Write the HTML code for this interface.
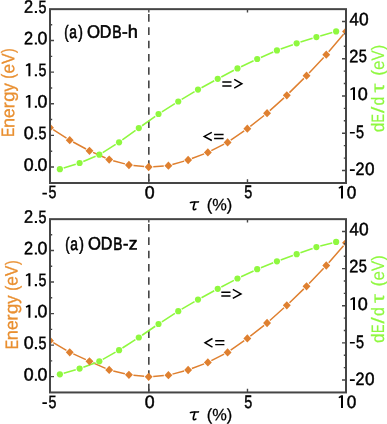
<!DOCTYPE html>
<html><head><meta charset="utf-8"><style>
html,body{margin:0;padding:0;background:#fff;width:387px;height:424px;overflow:hidden}
svg{display:block;will-change:transform}
text{font-family:"Liberation Sans",sans-serif;stroke-width:0.6px;paint-order:stroke}
</style></head><body>
<svg width="387" height="424" viewBox="0 0 387 424">
<clipPath id="c0"><rect x="50.0" y="8.950000000000001" width="296.0" height="174.0"/></clipPath>
<path d="M148.82 14.05V21.65M148.82 27.35V34.95M148.82 40.65V48.25M148.82 53.95V61.55M148.82 67.25V74.85M148.82 80.55V88.15M148.82 93.85V101.45M148.82 107.15V114.75M148.82 120.45V128.05M148.82 133.75V141.35M148.82 147.05V154.65M148.82 160.35V167.95M148.82 173.65V181.25" stroke="#454545" stroke-width="1.6" fill="none"/>
<g clip-path="url(#c0)">
<path d="M53.22 129.74L66.51 138.16M73.14 142.03L86.06 148.97M93.06 152.40L105.60 158.00M113.20 160.70L124.93 163.90M133.43 165.46L144.17 166.54M153.28 166.70L163.78 166.00M172.36 164.56L184.17 161.14M191.86 158.56L204.13 153.84M211.33 150.64L224.13 144.16M230.71 140.24L244.21 130.86M250.30 126.37L264.10 115.53M269.85 110.67L284.01 97.83M289.46 92.65L303.86 78.35M309.11 72.96L323.68 57.44M328.70 51.82L343.55 34.28" fill="none" stroke="#DF8030" stroke-width="1.5"/>
<path d="M63.68 168.00L75.78 164.20M83.29 161.45L95.65 156.25M102.72 152.57L115.68 144.43M122.31 139.96L135.55 130.44M142.05 125.77L155.28 116.33M161.91 111.86L174.89 103.64M181.69 99.43L194.57 91.67M201.51 87.68L214.22 80.72M221.27 76.94L233.92 70.26M241.07 66.68L253.59 60.72M260.86 57.40L273.26 52.00M280.69 49.05L292.90 44.65M300.48 42.10L312.58 38.30M320.24 35.99L332.29 32.51" fill="none" stroke="#8FF83F" stroke-width="1.6"/>
<path d="M50.00 123.55L53.95 127.70L50.00 131.85L46.05 127.70ZM69.73 136.05L73.68 140.20L69.73 144.35L65.78 140.20ZM89.47 146.65L93.42 150.80L89.47 154.95L85.52 150.80ZM109.20 155.45L113.15 159.60L109.20 163.75L105.25 159.60ZM128.93 160.85L132.88 165.00L128.93 169.15L124.98 165.00ZM148.67 162.85L152.62 167.00L148.67 171.15L144.72 167.00ZM168.40 161.55L172.35 165.70L168.40 169.85L164.45 165.70ZM188.13 155.85L192.08 160.00L188.13 164.15L184.18 160.00ZM207.86 148.25L211.81 152.40L207.86 156.55L203.91 152.40ZM227.60 138.25L231.55 142.40L227.60 146.55L223.65 142.40ZM247.33 124.55L251.28 128.70L247.33 132.85L243.38 128.70ZM267.06 109.05L271.01 113.20L267.06 117.35L263.11 113.20ZM286.80 91.15L290.75 95.30L286.80 99.45L282.85 95.30ZM306.53 71.55L310.48 75.70L306.53 79.85L302.58 75.70ZM326.26 50.55L330.21 54.70L326.26 58.85L322.31 54.70ZM346.00 27.25L349.94 31.40L346.00 35.55L342.05 31.40Z" fill="#DF8030"/>
<circle cx="59.87" cy="169.2" r="3.1" fill="#8FF83F"/>
<circle cx="79.60" cy="163.0" r="3.1" fill="#8FF83F"/>
<circle cx="99.33" cy="154.7" r="3.1" fill="#8FF83F"/>
<circle cx="119.07" cy="142.3" r="3.1" fill="#8FF83F"/>
<circle cx="138.80" cy="128.1" r="3.1" fill="#8FF83F"/>
<circle cx="158.53" cy="114.0" r="3.1" fill="#8FF83F"/>
<circle cx="178.26" cy="101.5" r="3.1" fill="#8FF83F"/>
<circle cx="198.00" cy="89.6" r="3.1" fill="#8FF83F"/>
<circle cx="217.73" cy="78.8" r="3.1" fill="#8FF83F"/>
<circle cx="237.46" cy="68.4" r="3.1" fill="#8FF83F"/>
<circle cx="257.20" cy="59.0" r="3.1" fill="#8FF83F"/>
<circle cx="276.93" cy="50.4" r="3.1" fill="#8FF83F"/>
<circle cx="296.66" cy="43.3" r="3.1" fill="#8FF83F"/>
<circle cx="316.40" cy="37.1" r="3.1" fill="#8FF83F"/>
<circle cx="336.13" cy="31.4" r="3.1" fill="#8FF83F"/>
</g>
<rect x="50.0" y="9.15" width="296.0" height="173.85" fill="none" stroke="#454545" stroke-width="2.0"/>
<path d="M50.0 167.00h4.0M50.0 151.19h2.2M50.0 135.38h4.0M50.0 119.57h2.2M50.0 103.76h4.0M50.0 87.95h2.2M50.0 72.14h4.0M50.0 56.33h2.2M50.0 40.52h4.0M50.0 24.71h2.2M346.0 170.50h-4.0M346.0 158.08h-2.2M346.0 145.66h-2.2M346.0 133.23h-4.0M346.0 120.81h-2.2M346.0 108.39h-2.2M346.0 95.97h-4.0M346.0 83.55h-2.2M346.0 71.13h-2.2M346.0 58.70h-4.0M346.0 46.28h-2.2M346.0 33.86h-2.2M346.0 21.44h-4.0M148.82 182.9v-3.6M148.82 8.950000000000001v3.6M247.48 182.9v-3.6M247.48 8.950000000000001v3.6" stroke="#454545" stroke-width="1.4" fill="none"/>
<clipPath id="c1"><rect x="50.0" y="218.95000000000002" width="296.0" height="173.4"/></clipPath>
<path d="M148.82 224.05V231.65M148.82 237.35V244.95M148.82 250.65V258.25M148.82 263.95V271.55M148.82 277.25V284.85M148.82 290.55V298.15M148.82 303.85V311.45M148.82 317.15V324.75M148.82 330.45V338.05M148.82 343.75V351.35M148.82 357.05V364.65M148.82 370.35V377.95M148.82 383.65V391.25" stroke="#454545" stroke-width="1.6" fill="none"/>
<g clip-path="url(#c1)">
<path d="M53.31 342.65L66.42 350.35M73.31 353.93L85.89 359.67M93.08 362.88L105.58 368.32M113.27 370.91L124.86 373.79M133.43 375.26L144.17 376.34M153.23 376.43L163.83 375.57M172.43 374.14L184.10 371.06M191.86 368.56L204.13 363.84M211.33 360.64L224.13 354.16M230.69 350.21L244.24 340.59M250.31 336.08L264.09 325.32M269.86 320.49L284.00 307.81M289.51 302.69L303.82 288.91M309.12 283.57L323.67 268.23M328.74 262.65L343.52 245.65" fill="none" stroke="#DF8030" stroke-width="1.5"/>
<path d="M63.71 373.19L75.76 369.71M83.35 367.21L95.58 362.69M102.82 359.34L115.58 352.16M122.43 348.04L135.43 339.66M142.10 335.24L155.23 326.26M161.89 321.82L174.91 313.38M181.71 309.17L194.55 301.63M201.51 297.68L214.22 290.72M221.28 286.95L233.92 280.35M241.08 276.79L253.58 270.91M260.91 267.71L273.22 262.79M280.69 259.95L292.90 255.55M300.43 252.85L312.63 248.45M320.26 246.08L332.26 242.92" fill="none" stroke="#8FF83F" stroke-width="1.6"/>
<path d="M50.00 336.55L53.95 340.70L50.00 344.85L46.05 340.70ZM69.73 348.15L73.68 352.30L69.73 356.45L65.78 352.30ZM89.47 357.15L93.42 361.30L89.47 365.45L85.52 361.30ZM109.20 365.75L113.15 369.90L109.20 374.05L105.25 369.90ZM128.93 370.65L132.88 374.80L128.93 378.95L124.98 374.80ZM148.67 372.65L152.62 376.80L148.67 380.95L144.72 376.80ZM168.40 371.05L172.35 375.20L168.40 379.35L164.45 375.20ZM188.13 365.85L192.08 370.00L188.13 374.15L184.18 370.00ZM207.86 358.25L211.81 362.40L207.86 366.55L203.91 362.40ZM227.60 348.25L231.55 352.40L227.60 356.55L223.65 352.40ZM247.33 334.25L251.28 338.40L247.33 342.55L243.38 338.40ZM267.06 318.85L271.01 323.00L267.06 327.15L263.11 323.00ZM286.80 301.15L290.75 305.30L286.80 309.45L282.85 305.30ZM306.53 282.15L310.48 286.30L306.53 290.45L302.58 286.30ZM326.26 261.35L330.21 265.50L326.26 269.65L322.31 265.50ZM346.00 238.65L349.94 242.80L346.00 246.95L342.05 242.80Z" fill="#DF8030"/>
<circle cx="59.87" cy="374.3" r="3.1" fill="#8FF83F"/>
<circle cx="79.60" cy="368.6" r="3.1" fill="#8FF83F"/>
<circle cx="99.33" cy="361.3" r="3.1" fill="#8FF83F"/>
<circle cx="119.07" cy="350.2" r="3.1" fill="#8FF83F"/>
<circle cx="138.80" cy="337.5" r="3.1" fill="#8FF83F"/>
<circle cx="158.53" cy="324.0" r="3.1" fill="#8FF83F"/>
<circle cx="178.26" cy="311.2" r="3.1" fill="#8FF83F"/>
<circle cx="198.00" cy="299.6" r="3.1" fill="#8FF83F"/>
<circle cx="217.73" cy="288.8" r="3.1" fill="#8FF83F"/>
<circle cx="237.46" cy="278.5" r="3.1" fill="#8FF83F"/>
<circle cx="257.20" cy="269.2" r="3.1" fill="#8FF83F"/>
<circle cx="276.93" cy="261.3" r="3.1" fill="#8FF83F"/>
<circle cx="296.66" cy="254.2" r="3.1" fill="#8FF83F"/>
<circle cx="316.40" cy="247.1" r="3.1" fill="#8FF83F"/>
<circle cx="336.13" cy="241.9" r="3.1" fill="#8FF83F"/>
</g>
<rect x="50.0" y="219.15" width="296.0" height="173.30" fill="none" stroke="#454545" stroke-width="2.0"/>
<path d="M50.0 376.65h4.0M50.0 360.88h2.2M50.0 345.11h4.0M50.0 329.35h2.2M50.0 313.58h4.0M50.0 297.81h2.2M50.0 282.04h4.0M50.0 266.28h2.2M50.0 250.51h4.0M50.0 234.74h2.2M346.0 380.06h-4.0M346.0 367.67h-2.2M346.0 355.29h-2.2M346.0 342.90h-4.0M346.0 330.52h-2.2M346.0 318.13h-2.2M346.0 305.75h-4.0M346.0 293.37h-2.2M346.0 280.98h-2.2M346.0 268.60h-4.0M346.0 256.21h-2.2M346.0 243.82h-2.2M346.0 231.44h-4.0M148.82 392.34999999999997v-3.6M148.82 218.95000000000002v3.6M247.48 392.34999999999997v-3.6M247.48 218.95000000000002v3.6" stroke="#454545" stroke-width="1.4" fill="none"/>
<path d="M222.3 82.0H231.5M222.3 86.0H231.5M234.2 79.30L241.9 83.75L234.2 88.20M211.8 132.30L204.2 136.4L211.8 140.50M214.1 134.5H223.6M214.1 138.4H223.6M221.3 292.2H230.5M221.3 295.9H230.5M232.8 289.45L241.0 293.9L232.8 298.35M212.5 338.50L205.0 342.8L212.5 347.10M215.2 340.7H224.4M215.2 344.6H224.4" stroke="#000" stroke-width="1.45" fill="none" stroke-miterlimit="6"/>
<path d="M190.4 202.6 C191.4 202.0 192.6 202.05 194.2 202.05 L198.5 201.9" stroke="#000" stroke-width="1.55" fill="none" stroke-linecap="round"/>
<path d="M194.7 202.4 C194.3 204.9 193.3 206.8 193.3 208.4 C193.3 209.9 194.4 210.1 195.8 209.1" stroke="#000" stroke-width="1.65" fill="none" stroke-linecap="round"/>
<path d="M190.4 412.6 C191.4 412.0 192.6 412.05 194.2 412.05 L198.5 411.9" stroke="#000" stroke-width="1.55" fill="none" stroke-linecap="round"/>
<path d="M194.7 412.4 C194.3 414.9 193.3 416.8 193.3 418.4 C193.3 419.9 194.4 420.1 195.8 419.1" stroke="#000" stroke-width="1.65" fill="none" stroke-linecap="round"/>
<path d="M34.85 169.00h2.1v2.1h-2.1ZM34.85 137.38h2.1v2.1h-2.1ZM30.40 94.96L30.40 107.86L28.40 107.86L28.40 97.06L26.20 97.96L25.70 96.66L28.60 94.96ZM34.85 105.76h2.1v2.1h-2.1ZM30.40 63.34L30.40 76.24L28.40 76.24L28.40 65.44L26.20 66.34L25.70 65.04L28.60 63.34ZM34.85 74.14h2.1v2.1h-2.1ZM34.85 42.52h2.1v2.1h-2.1ZM34.85 10.90h2.1v2.1h-2.1ZM355.00 87.20L355.00 100.00L353.00 100.00L353.00 89.30L350.70 90.20L350.20 88.90L353.20 87.20ZM349.90 131.90H354.80V133.50H349.90ZM349.90 169.30H354.80V170.90H349.90ZM42.40 192.80H46.90V194.40H42.40ZM343.00 185.80L343.00 198.50L341.00 198.50L341.00 187.90L339.00 188.80L338.50 187.50L341.20 185.80ZM34.85 378.65h2.1v2.1h-2.1ZM34.85 347.11h2.1v2.1h-2.1ZM30.40 304.78L30.40 317.68L28.40 317.68L28.40 306.88L26.20 307.78L25.70 306.48L28.60 304.78ZM34.85 315.58h2.1v2.1h-2.1ZM30.40 273.25L30.40 286.14L28.40 286.14L28.40 275.35L26.20 276.25L25.70 274.94L28.60 273.25ZM34.85 284.04h2.1v2.1h-2.1ZM34.85 252.51h2.1v2.1h-2.1ZM34.85 220.97h2.1v2.1h-2.1ZM355.00 297.20L355.00 310.00L353.00 310.00L353.00 299.30L350.70 300.20L350.20 298.90L353.20 297.20ZM349.90 341.90H354.80V343.50H349.90ZM349.90 379.30H354.80V380.90H349.90ZM42.40 402.30H46.90V403.90H42.40ZM343.00 395.30L343.00 408.00L341.00 408.00L341.00 397.40L339.00 398.30L338.50 397.00L341.20 395.30Z" fill="#000"/>
<text transform="translate(23.66 170.72) rotate(0.03) scale(0.9882 1)" font-size="18" stroke="#000" style="stroke-width:0.5px">0</text>
<text transform="translate(37.46 170.72) rotate(0.03) scale(0.9882 1)" font-size="18" stroke="#000" style="stroke-width:0.5px">0</text>
<text transform="translate(23.66 139.10) rotate(0.03) scale(0.9882 1)" font-size="18" stroke="#000" style="stroke-width:0.5px">0</text>
<text transform="translate(38.43 139.10) rotate(0.03) scale(0.7941 1)" font-size="18" stroke="#000" style="stroke-width:0.5px">5</text>
<text transform="translate(37.46 107.48) rotate(0.03) scale(0.9882 1)" font-size="18" stroke="#000" style="stroke-width:0.5px">0</text>
<text transform="translate(38.43 75.86) rotate(0.03) scale(0.7941 1)" font-size="18" stroke="#000" style="stroke-width:0.5px">5</text>
<text transform="translate(24.05 44.37) rotate(0.03) scale(0.9091 1)" font-size="18" stroke="#000" style="stroke-width:0.5px">2</text>
<text transform="translate(37.46 44.24) rotate(0.03) scale(0.9882 1)" font-size="18" stroke="#000" style="stroke-width:0.5px">0</text>
<text transform="translate(24.05 12.75) rotate(0.03) scale(0.9091 1)" font-size="18" stroke="#000" style="stroke-width:0.5px">2</text>
<text transform="translate(38.43 12.63) rotate(0.03) scale(0.7941 1)" font-size="18" stroke="#000" style="stroke-width:0.5px">5</text>
<text transform="translate(349.50 25.35) rotate(0.03) scale(0.9205 1)" font-size="18" stroke="#000" style="stroke-width:0.5px">4</text>
<text transform="translate(359.03 25.23) rotate(0.03) scale(0.9647 1)" font-size="18" stroke="#000" style="stroke-width:0.5px">0</text>
<text transform="translate(349.35 62.15) rotate(0.03) scale(0.9091 1)" font-size="18" stroke="#000" style="stroke-width:0.5px">2</text>
<text transform="translate(358.84 62.02) rotate(0.03) scale(0.8118 1)" font-size="18" stroke="#000" style="stroke-width:0.5px">5</text>
<text transform="translate(357.70 99.92) rotate(0.03) scale(1.0000 1)" font-size="18" stroke="#000" style="stroke-width:0.5px">0</text>
<text transform="translate(355.95 137.93) rotate(0.03) scale(0.8000 1)" font-size="18" stroke="#000" style="stroke-width:0.5px">5</text>
<text transform="translate(355.47 175.05) rotate(0.03) scale(0.8970 1)" font-size="18" stroke="#000" style="stroke-width:0.5px">2</text>
<text transform="translate(364.94 175.12) rotate(0.03) scale(0.9529 1)" font-size="18" stroke="#000" style="stroke-width:0.5px">0</text>
<text transform="translate(48.46 198.22) rotate(0.03) scale(0.7882 1)" font-size="18" stroke="#000" style="stroke-width:0.5px">5</text>
<text transform="translate(144.81 198.43) rotate(0.03) scale(0.9882 1)" font-size="18" stroke="#000" style="stroke-width:0.5px">0</text>
<text transform="translate(244.35 198.12) rotate(0.03) scale(0.8000 1)" font-size="18" stroke="#000" style="stroke-width:0.5px">5</text>
<text transform="translate(346.74 198.53) rotate(0.03) scale(0.9529 1)" font-size="18" stroke="#000" style="stroke-width:0.5px">0</text>
<text transform="translate(23.66 380.38) rotate(0.03) scale(0.9882 1)" font-size="18" stroke="#000" style="stroke-width:0.5px">0</text>
<text transform="translate(37.46 380.38) rotate(0.03) scale(0.9882 1)" font-size="18" stroke="#000" style="stroke-width:0.5px">0</text>
<text transform="translate(23.66 348.84) rotate(0.03) scale(0.9882 1)" font-size="18" stroke="#000" style="stroke-width:0.5px">0</text>
<text transform="translate(38.43 348.84) rotate(0.03) scale(0.7941 1)" font-size="18" stroke="#000" style="stroke-width:0.5px">5</text>
<text transform="translate(37.46 317.31) rotate(0.03) scale(0.9882 1)" font-size="18" stroke="#000" style="stroke-width:0.5px">0</text>
<text transform="translate(38.43 285.77) rotate(0.03) scale(0.7941 1)" font-size="18" stroke="#000" style="stroke-width:0.5px">5</text>
<text transform="translate(24.05 254.36) rotate(0.03) scale(0.9091 1)" font-size="18" stroke="#000" style="stroke-width:0.5px">2</text>
<text transform="translate(37.46 254.23) rotate(0.03) scale(0.9882 1)" font-size="18" stroke="#000" style="stroke-width:0.5px">0</text>
<text transform="translate(24.05 222.82) rotate(0.03) scale(0.9091 1)" font-size="18" stroke="#000" style="stroke-width:0.5px">2</text>
<text transform="translate(38.43 222.70) rotate(0.03) scale(0.7941 1)" font-size="18" stroke="#000" style="stroke-width:0.5px">5</text>
<text transform="translate(349.50 235.35) rotate(0.03) scale(0.9205 1)" font-size="18" stroke="#000" style="stroke-width:0.5px">4</text>
<text transform="translate(359.03 235.22) rotate(0.03) scale(0.9647 1)" font-size="18" stroke="#000" style="stroke-width:0.5px">0</text>
<text transform="translate(349.35 272.15) rotate(0.03) scale(0.9091 1)" font-size="18" stroke="#000" style="stroke-width:0.5px">2</text>
<text transform="translate(358.84 272.02) rotate(0.03) scale(0.8118 1)" font-size="18" stroke="#000" style="stroke-width:0.5px">5</text>
<text transform="translate(357.70 309.93) rotate(0.03) scale(1.0000 1)" font-size="18" stroke="#000" style="stroke-width:0.5px">0</text>
<text transform="translate(355.95 347.93) rotate(0.03) scale(0.8000 1)" font-size="18" stroke="#000" style="stroke-width:0.5px">5</text>
<text transform="translate(355.47 385.05) rotate(0.03) scale(0.8970 1)" font-size="18" stroke="#000" style="stroke-width:0.5px">2</text>
<text transform="translate(364.94 385.12) rotate(0.03) scale(0.9529 1)" font-size="18" stroke="#000" style="stroke-width:0.5px">0</text>
<text transform="translate(48.46 407.73) rotate(0.03) scale(0.7882 1)" font-size="18" stroke="#000" style="stroke-width:0.5px">5</text>
<text transform="translate(144.81 407.93) rotate(0.03) scale(0.9882 1)" font-size="18" stroke="#000" style="stroke-width:0.5px">0</text>
<text transform="translate(244.35 407.62) rotate(0.03) scale(0.8000 1)" font-size="18" stroke="#000" style="stroke-width:0.5px">5</text>
<text transform="translate(346.74 408.02) rotate(0.03) scale(0.9529 1)" font-size="18" stroke="#000" style="stroke-width:0.5px">0</text>
<text transform="translate(64.19 37.80) rotate(0.03) scale(0.7158 1)" font-size="18" fill="#000000" stroke="#000000">(</text>
<text transform="translate(69.22 37.80) rotate(0.03) scale(0.7676 1)" font-size="18" fill="#000000" stroke="#000000">a</text>
<text transform="translate(78.20 37.80) rotate(0.03) scale(0.7789 1)" font-size="18" fill="#000000" stroke="#000000">)</text>
<text transform="translate(86.89 37.80) rotate(0.03) scale(0.9306 1)" font-size="18" fill="#000000" stroke="#000000">O</text>
<text transform="translate(99.76 37.80) rotate(0.03) scale(0.8941 1)" font-size="18" fill="#000000" stroke="#000000">D</text>
<text transform="translate(112.13 37.80) rotate(0.03) scale(0.7789 1)" font-size="18" fill="#000000" stroke="#000000">B</text>
<text transform="translate(122.08 37.80) rotate(0.03) scale(0.9556 1)" font-size="18" fill="#000000" stroke="#000000">-</text>
<text transform="translate(127.84 37.80) rotate(0.03) scale(1.0098 1)" font-size="18" fill="#000000" stroke="#000000">h</text>
<text transform="translate(206.71 210.20) rotate(0.03) scale(0.9947 1)" font-size="16.5" fill="#000000" stroke="#000000" style="stroke-width:0.25px">(%)</text>
<text transform="translate(14.20 136.97) rotate(-89.97) scale(0.7795 1)" font-size="18" fill="#E98F30" stroke="#E98F30" style="stroke-width:0.3px">E</text>
<text transform="translate(14.20 127.96) rotate(-89.97) scale(1.0098 1)" font-size="18" fill="#E98F30" stroke="#E98F30" style="stroke-width:0.3px">n</text>
<text transform="translate(14.20 117.92) rotate(-89.97) scale(0.9647 1)" font-size="18" fill="#E98F30" stroke="#E98F30" style="stroke-width:0.3px">e</text>
<text transform="translate(14.20 108.35) rotate(-89.97) scale(1.0000 1)" font-size="18" fill="#E98F30" stroke="#E98F30" style="stroke-width:0.3px">r</text>
<text transform="translate(14.20 101.68) rotate(-89.97) scale(1.0338 1)" font-size="18" fill="#E98F30" stroke="#E98F30" style="stroke-width:0.3px">g</text>
<text transform="translate(14.20 91.51) rotate(-89.97) scale(0.9127 1)" font-size="18" fill="#E98F30" stroke="#E98F30" style="stroke-width:0.3px">y</text>
<text transform="translate(14.20 78.65) rotate(-89.97) scale(0.8421 1)" font-size="18" fill="#E98F30" stroke="#E98F30" style="stroke-width:0.3px">(</text>
<text transform="translate(14.20 73.61) rotate(-89.97) scale(0.9529 1)" font-size="18" fill="#E98F30" stroke="#E98F30" style="stroke-width:0.3px">e</text>
<text transform="translate(14.20 64.11) rotate(-89.97) scale(0.8851 1)" font-size="18" fill="#E98F30" stroke="#E98F30" style="stroke-width:0.3px">V</text>
<text transform="translate(14.20 52.89) rotate(-89.97) scale(0.7579 1)" font-size="18" fill="#E98F30" stroke="#E98F30" style="stroke-width:0.3px">)</text>
<text transform="translate(384.00 132.32) rotate(-89.97) scale(0.9600 1)" font-size="18" fill="#8FF83F" stroke="#8FF83F" style="stroke-width:0.15px">d</text>
<text transform="translate(384.00 122.48) rotate(-89.97) scale(0.7179 1)" font-size="18" fill="#8FF83F" stroke="#8FF83F" style="stroke-width:0.15px">E</text>
<text transform="translate(384.00 113.20) rotate(-89.97) scale(1.3200 1)" font-size="18" fill="#8FF83F" stroke="#8FF83F" style="stroke-width:0.15px">/</text>
<text transform="translate(384.00 105.46) rotate(-89.97) scale(0.8862 1)" font-size="18" fill="#8FF83F" stroke="#8FF83F" style="stroke-width:0.15px">d</text>
<text transform="translate(384.00 92.51) rotate(-89.97) scale(1.2444 1)" font-size="18" fill="#8FF83F" stroke="#8FF83F" style="stroke-width:0.15px">τ</text>
<text transform="translate(384.00 75.81) rotate(-89.97) scale(0.9895 1)" font-size="18" fill="#8FF83F" stroke="#8FF83F" style="stroke-width:0.15px">(</text>
<text transform="translate(384.00 69.91) rotate(-89.97) scale(0.9529 1)" font-size="18" fill="#8FF83F" stroke="#8FF83F" style="stroke-width:0.15px">e</text>
<text transform="translate(384.00 60.40) rotate(-89.97) scale(0.8340 1)" font-size="18" fill="#8FF83F" stroke="#8FF83F" style="stroke-width:0.15px">V</text>
<text transform="translate(384.00 50.21) rotate(-89.97) scale(0.9053 1)" font-size="18" fill="#8FF83F" stroke="#8FF83F" style="stroke-width:0.15px">)</text>
<text transform="translate(65.19 249.60) rotate(0.03) scale(0.7158 1)" font-size="18" fill="#000000" stroke="#000000">(</text>
<text transform="translate(70.22 249.60) rotate(0.03) scale(0.7676 1)" font-size="18" fill="#000000" stroke="#000000">a</text>
<text transform="translate(79.20 249.60) rotate(0.03) scale(0.7789 1)" font-size="18" fill="#000000" stroke="#000000">)</text>
<text transform="translate(88.09 249.60) rotate(0.03) scale(0.9224 1)" font-size="18" fill="#000000" stroke="#000000">O</text>
<text transform="translate(100.76 249.60) rotate(0.03) scale(0.8941 1)" font-size="18" fill="#000000" stroke="#000000">D</text>
<text transform="translate(113.25 249.60) rotate(0.03) scale(0.7684 1)" font-size="18" fill="#000000" stroke="#000000">B</text>
<text transform="translate(122.92 249.60) rotate(0.03) scale(0.9111 1)" font-size="18" fill="#000000" stroke="#000000">-</text>
<text transform="translate(128.77 249.60) rotate(0.03) scale(0.9763 1)" font-size="18" fill="#000000" stroke="#000000">z</text>
<text transform="translate(206.71 420.20) rotate(0.03) scale(0.9947 1)" font-size="16.5" fill="#000000" stroke="#000000" style="stroke-width:0.25px">(%)</text>
<text transform="translate(17.50 349.17) rotate(-89.97) scale(0.7795 1)" font-size="18" fill="#E98F30" stroke="#E98F30" style="stroke-width:0.3px">E</text>
<text transform="translate(17.50 340.16) rotate(-89.97) scale(1.0098 1)" font-size="18" fill="#E98F30" stroke="#E98F30" style="stroke-width:0.3px">n</text>
<text transform="translate(17.50 330.12) rotate(-89.97) scale(0.9647 1)" font-size="18" fill="#E98F30" stroke="#E98F30" style="stroke-width:0.3px">e</text>
<text transform="translate(17.50 320.55) rotate(-89.97) scale(1.0000 1)" font-size="18" fill="#E98F30" stroke="#E98F30" style="stroke-width:0.3px">r</text>
<text transform="translate(17.50 313.88) rotate(-89.97) scale(1.0338 1)" font-size="18" fill="#E98F30" stroke="#E98F30" style="stroke-width:0.3px">g</text>
<text transform="translate(17.50 303.71) rotate(-89.97) scale(0.9127 1)" font-size="18" fill="#E98F30" stroke="#E98F30" style="stroke-width:0.3px">y</text>
<text transform="translate(17.50 290.85) rotate(-89.97) scale(0.8421 1)" font-size="18" fill="#E98F30" stroke="#E98F30" style="stroke-width:0.3px">(</text>
<text transform="translate(17.50 285.81) rotate(-89.97) scale(0.9529 1)" font-size="18" fill="#E98F30" stroke="#E98F30" style="stroke-width:0.3px">e</text>
<text transform="translate(17.50 276.31) rotate(-89.97) scale(0.8851 1)" font-size="18" fill="#E98F30" stroke="#E98F30" style="stroke-width:0.3px">V</text>
<text transform="translate(17.50 265.09) rotate(-89.97) scale(0.7579 1)" font-size="18" fill="#E98F30" stroke="#E98F30" style="stroke-width:0.3px">)</text>
<text transform="translate(384.00 342.92) rotate(-89.97) scale(0.9600 1)" font-size="18" fill="#8FF83F" stroke="#8FF83F" style="stroke-width:0.15px">d</text>
<text transform="translate(384.00 333.08) rotate(-89.97) scale(0.7179 1)" font-size="18" fill="#8FF83F" stroke="#8FF83F" style="stroke-width:0.15px">E</text>
<text transform="translate(384.00 323.80) rotate(-89.97) scale(1.3200 1)" font-size="18" fill="#8FF83F" stroke="#8FF83F" style="stroke-width:0.15px">/</text>
<text transform="translate(384.00 316.06) rotate(-89.97) scale(0.8862 1)" font-size="18" fill="#8FF83F" stroke="#8FF83F" style="stroke-width:0.15px">d</text>
<text transform="translate(384.00 303.11) rotate(-89.97) scale(1.2444 1)" font-size="18" fill="#8FF83F" stroke="#8FF83F" style="stroke-width:0.15px">τ</text>
<text transform="translate(384.00 286.41) rotate(-89.97) scale(0.9895 1)" font-size="18" fill="#8FF83F" stroke="#8FF83F" style="stroke-width:0.15px">(</text>
<text transform="translate(384.00 280.51) rotate(-89.97) scale(0.9529 1)" font-size="18" fill="#8FF83F" stroke="#8FF83F" style="stroke-width:0.15px">e</text>
<text transform="translate(384.00 271.00) rotate(-89.97) scale(0.8340 1)" font-size="18" fill="#8FF83F" stroke="#8FF83F" style="stroke-width:0.15px">V</text>
<text transform="translate(384.00 260.81) rotate(-89.97) scale(0.9053 1)" font-size="18" fill="#8FF83F" stroke="#8FF83F" style="stroke-width:0.15px">)</text>
</svg></body></html>
